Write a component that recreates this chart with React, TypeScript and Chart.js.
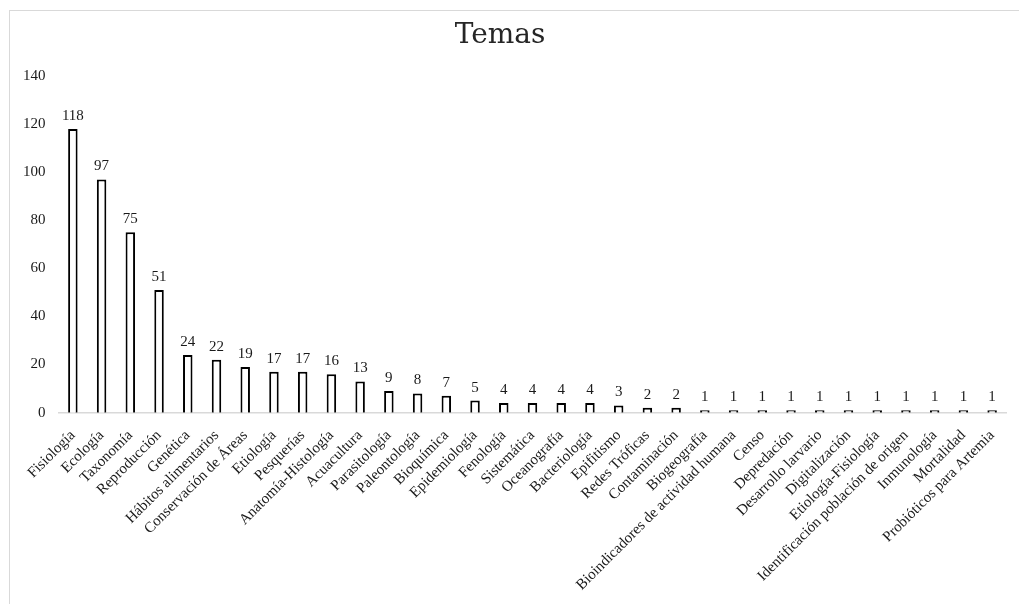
import React, { useEffect, useRef } from "react";
import { Chart, registerables } from "chart.js";

Chart.register(...registerables);

const chartTitle = "Temas";

const categories: string[] = [
  "Fisiología",
  "Ecología",
  "Taxonomía",
  "Reproducción",
  "Genética",
  "Hábitos alimentarios",
  "Conservación de Áreas",
  "Etiología",
  "Pesquerías",
  "Anatomía-Histología",
  "Acuacultura",
  "Parasitología",
  "Paleontología",
  "Bioquímica",
  "Epidemiología",
  "Fenología",
  "Sistemática",
  "Oceanografía",
  "Bacteriología",
  "Epifitismo",
  "Redes Tróficas",
  "Contaminación",
  "Biogeografía",
  "Bioindicadores de actividad humana",
  "Censo",
  "Depredación",
  "Desarrollo larvario",
  "Digitalización",
  "Etiología-Fisiología",
  "Identificación población de origen",
  "Inmunología",
  "Mortalidad",
  "Probióticos para Artemia",
];

const values: number[] = [
  118, 97, 75, 51, 24, 22, 19, 17, 17, 16, 13, 9, 8, 7, 5, 4, 4, 4, 4, 3, 2, 2,
  1, 1, 1, 1, 1, 1, 1, 1, 1, 1, 1,
];

const yTickValues: number[] = [0, 20, 40, 60, 80, 100, 120, 140];

const SERIF = "'Liberation Serif', 'Times New Roman', serif";

const valueLabelPlugin = {
  id: "valueLabels",
  afterDatasetsDraw(chart: any) {
    const ctx = chart.ctx;
    const meta = chart.getDatasetMeta(0);
    const data = chart.data.datasets[0].data as number[];
    ctx.save();
    ctx.font = `15px ${SERIF}`;
    ctx.fillStyle = "#1a1a1a";
    ctx.textAlign = "center";
    ctx.textBaseline = "alphabetic";
    meta.data.forEach((el: any, i: number) => {
      ctx.fillText(String(data[i]), el.x, el.y - 9);
    });
    ctx.restore();
  },
};

const titlePlugin = {
  id: "offsetTitle",
  afterDraw(chart: any) {
    const ctx = chart.ctx;
    ctx.save();
    ctx.font = `28px 'DejaVu Serif', serif`;
    ctx.fillStyle = "#262626";
    ctx.textAlign = "center";
    ctx.textBaseline = "alphabetic";
    ctx.fillText(chartTitle, chart.width * 0.4856, 32);
    ctx.restore();
  },
};

export default function App() {
  const canvasRef = useRef<HTMLCanvasElement | null>(null);

  useEffect(() => {
    if (!canvasRef.current) return;
    const chart = new Chart(canvasRef.current, {
      type: "bar",
      data: {
        labels: categories,
        datasets: [
          {
            data: values,
            backgroundColor: "#ffffff",
            borderColor: "#000000",
            borderWidth: 2,
            barPercentage: 0.33,
            categoryPercentage: 1,
          },
        ],
      },
      options: {
        responsive: false,
        animation: false,
        devicePixelRatio: 1,
        layout: { padding: { left: 0, right: 10, top: 65, bottom: -4 } },
        plugins: {
          legend: { display: false },
          title: { display: false },
          tooltip: { enabled: false },
        },
        scales: {
          x: {
            grid: { display: false, drawTicks: false },
            border: { display: true, color: "#d9d9d9", width: 1.5 },
            ticks: {
              autoSkip: false,
              maxRotation: 45,
              minRotation: 45,
              padding: 14,
              color: "#1a1a1a",
              font: { family: SERIF, size: 15 },
            },
          },
          y: {
            min: 0,
            max: 140,
            grid: { display: false, drawTicks: false },
            border: { display: false },
            afterBuildTicks: (axis: any) => {
              axis.ticks = yTickValues.map((v) => ({ value: v }));
            },
            ticks: {
              padding: 13,
              color: "#1a1a1a",
              font: { family: SERIF, size: 15 },
            },
          },
        },
      },
      plugins: [valueLabelPlugin, titlePlugin],
    });
    return () => chart.destroy();
  }, []);

  return (
    <div
      style={{
        position: "fixed",
        left: 9,
        top: 10,
        width: 1010,
        height: 594,
        borderTop: "1px solid #d9d9d9",
        borderLeft: "1px solid #d9d9d9",
        background: "#fff",
        overflow: "hidden",
      }}
    >
      <canvas
        ref={canvasRef}
        width={1009}
        height={593}
        style={{ display: "block", width: 1009, height: 593 }}
      />
    </div>
  );
}
